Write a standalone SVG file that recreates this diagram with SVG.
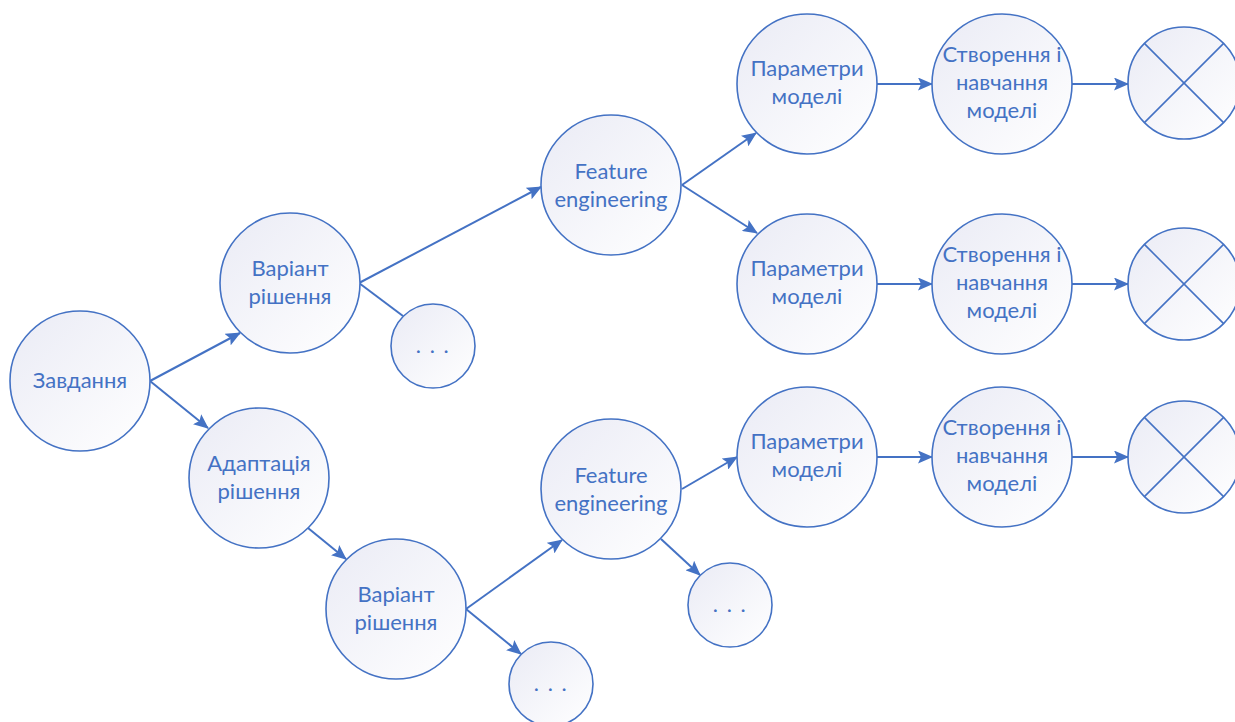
<svg xmlns="http://www.w3.org/2000/svg" width="1235" height="722" viewBox="0 0 1235 722">
  <defs>
    <linearGradient id="nodeFill" x1="0" y1="0" x2="1" y2="1">
      <stop offset="0" stop-color="#EAEBF5"/>
      <stop offset="1" stop-color="#FFFFFF"/>
    </linearGradient>
    <marker id="arrow" markerUnits="userSpaceOnUse" markerWidth="15" markerHeight="13" refX="14" refY="6.5" orient="auto">
      <path d="M0,0 L15,6.5 L0,13 L3,6.5 z" fill="#4472C4"/>
    </marker>
    <style>
      .node circle { fill: url(#nodeFill); stroke: #4472C4; stroke-width: 1.6; }
      .node line { stroke: #4472C4; stroke-width: 1.6; }
      .node text { font-family: Lato, "Liberation Sans", sans-serif; font-size: 22px; fill: #4472C4; text-anchor: middle; }
      .node text.dots { letter-spacing: 1.5px; }
      .connectors line { stroke: #4472C4; stroke-width: 2; fill: none; }
      .connectors line.arr { marker-end: url(#arrow); }
    </style>
  </defs>

  <!-- connectors -->
  <g class="connectors">
    <line class="arr" x1="150" y1="381" x2="240" y2="333"/>
    <line class="arr" x1="150" y1="381" x2="208" y2="428"/>
    <line class="arr" x1="359" y1="283" x2="541" y2="187"/>
    <line x1="359" y1="283" x2="403" y2="316"/>
    <line class="arr" x1="308" y1="528" x2="346" y2="559"/>
    <line class="arr" x1="466" y1="609" x2="562" y2="540"/>
    <line class="arr" x1="466" y1="609" x2="521" y2="654"/>
    <line class="arr" x1="682" y1="185" x2="756" y2="133"/>
    <line class="arr" x1="682" y1="185" x2="757" y2="233"/>
    <line class="arr" x1="682" y1="489" x2="737" y2="457"/>
    <line class="arr" x1="661" y1="539" x2="700" y2="575"/>
    <line class="arr" x1="877" y1="84" x2="932" y2="84"/>
    <line class="arr" x1="877" y1="284" x2="932" y2="284"/>
    <line class="arr" x1="877" y1="457" x2="932" y2="457"/>
    <line class="arr" x1="1072" y1="84" x2="1128" y2="84"/>
    <line class="arr" x1="1072" y1="284" x2="1128" y2="284"/>
    <line class="arr" x1="1072" y1="457" x2="1128" y2="457"/>
  </g>

  <!-- task -->
  <g id="task" class="node">
    <circle cx="80" cy="381" r="70"/>
    <text x="80" y="388">Завдання</text>
  </g>

  <!-- solution variant, upper branch -->
  <g id="variant-top" class="node">
    <circle cx="290" cy="283" r="70"/>
    <text x="290" y="276">Варіант</text>
    <text x="290" y="304">рішення</text>
  </g>
  <g id="more-top" class="node">
    <circle cx="433" cy="346" r="42"/>
    <text class="dots" x="433" y="353">. . .</text>
  </g>

  <!-- adaptation branch -->
  <g id="adaptation" class="node">
    <circle cx="259" cy="478" r="70"/>
    <text x="259" y="471">Адаптація</text>
    <text x="259" y="499">рішення</text>
  </g>
  <g id="variant-bottom" class="node">
    <circle cx="396" cy="609" r="70"/>
    <text x="396" y="602">Варіант</text>
    <text x="396" y="630">рішення</text>
  </g>
  <g id="more-bottom" class="node">
    <circle cx="551" cy="684" r="42"/>
    <text class="dots" x="551" y="691">. . .</text>
  </g>

  <!-- feature engineering -->
  <g id="fe-top" class="node">
    <circle cx="611" cy="185" r="70"/>
    <text x="611" y="179">Feature</text>
    <text x="611" y="207">engineering</text>
  </g>
  <g id="fe-bottom" class="node">
    <circle cx="611" cy="489" r="70"/>
    <text x="611" y="483">Feature</text>
    <text x="611" y="511">engineering</text>
  </g>
  <g id="more-fe" class="node">
    <circle cx="730" cy="605" r="42"/>
    <text class="dots" x="730" y="612">. . .</text>
  </g>

  <!-- model parameters -->
  <g id="params-1" class="node">
    <circle cx="807" cy="84" r="70"/>
    <text x="807" y="76">Параметри</text>
    <text x="807" y="104">моделі</text>
  </g>
  <g id="params-2" class="node">
    <circle cx="807" cy="284" r="70"/>
    <text x="807" y="276">Параметри</text>
    <text x="807" y="304">моделі</text>
  </g>
  <g id="params-3" class="node">
    <circle cx="807" cy="457" r="70"/>
    <text x="807" y="449">Параметри</text>
    <text x="807" y="477">моделі</text>
  </g>

  <!-- model build and training -->
  <g id="train-1" class="node">
    <circle cx="1002" cy="84" r="70"/>
    <text x="1002" y="62">Створення і</text>
    <text x="1002" y="90">навчання</text>
    <text x="1002" y="118">моделі</text>
  </g>
  <g id="train-2" class="node">
    <circle cx="1002" cy="284" r="70"/>
    <text x="1002" y="262">Створення і</text>
    <text x="1002" y="290">навчання</text>
    <text x="1002" y="318">моделі</text>
  </g>
  <g id="train-3" class="node">
    <circle cx="1002" cy="457" r="70"/>
    <text x="1002" y="435">Створення і</text>
    <text x="1002" y="463">навчання</text>
    <text x="1002" y="491">моделі</text>
  </g>

  <!-- terminal nodes -->
  <g id="end-1" class="node">
    <circle cx="1184" cy="83" r="56"/>
    <line x1="1144.4" y1="43.4" x2="1223.6" y2="122.6"/>
    <line x1="1223.6" y1="43.4" x2="1144.4" y2="122.6"/>
  </g>
  <g id="end-2" class="node">
    <circle cx="1184" cy="284" r="56"/>
    <line x1="1144.4" y1="244.4" x2="1223.6" y2="323.6"/>
    <line x1="1223.6" y1="244.4" x2="1144.4" y2="323.6"/>
  </g>
  <g id="end-3" class="node">
    <circle cx="1184" cy="457" r="56"/>
    <line x1="1144.4" y1="417.4" x2="1223.6" y2="496.6"/>
    <line x1="1223.6" y1="417.4" x2="1144.4" y2="496.6"/>
  </g>
</svg>
